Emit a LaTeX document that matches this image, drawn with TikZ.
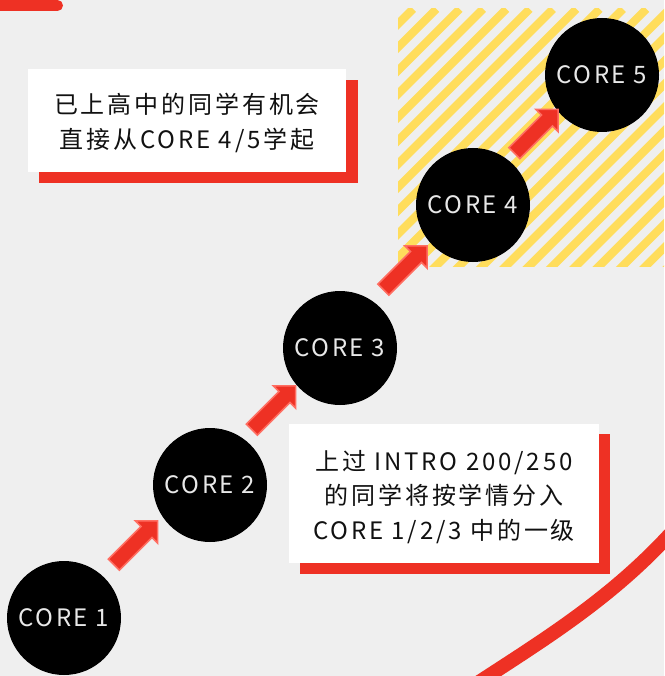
\documentclass[tikz,border=0pt]{standalone}
\usepackage{fontspec}
\setmainfont{Noto Sans CJK SC}
\newfontfamily\boxfont[LetterSpace=12]{Noto Sans CJK SC}
\newfontfamily\circfont[LetterSpace=10]{Noto Sans CJK SC}
\usetikzlibrary{shapes.arrows}
\definecolor{bggrey}{HTML}{EFEFEF}
\definecolor{redA}{HTML}{EE3124}
\definecolor{redL}{HTML}{FF6E62}
\definecolor{yel}{HTML}{FFDD5C}
\definecolor{ink}{HTML}{111111}
\definecolor{circtext}{HTML}{E8E8E8}
\pgfdeclarelayer{back}
\pgfdeclarelayer{shade}
\pgfsetlayers{back,shade,main}
\begin{document}
\begin{tikzpicture}[x=1pt,y=-1pt,
  corenode/.style={circle, fill=black, minimum size=114pt, inner sep=0pt,
    text=circtext, font=\circfont\fontsize{24}{28}\selectfont},
  notebox/.style={fill=white, inner sep=0pt},
  notetext/.style={text=ink, align=center, inner sep=0pt,
    font=\boxfont\fontsize{24}{34.5}\selectfont},
  steparrow/.style={single arrow, fill=redA, draw=redL, line width=1.6pt,
    inner sep=7pt, single arrow head extend=8pt, single arrow head indent=0pt,
    minimum height=62pt, shift={(-4,-6)}, rotate=45},
  shadowfill/.style={fill=redA}
]
\useasboundingbox (0,0) rectangle (664,676);
\begin{pgfonlayer}{back}
  \fill[bggrey] (0,0) rectangle (664,676);
  \begin{scope}
    \clip (398,9) rectangle (664,266);
    \foreach \k in {-2,...,23}
      \draw[yel, line width=8.2pt] ({413+\k*23.33},9) -- ++(-290,290);
  \end{scope}
\end{pgfonlayer}

% decorative red strokes
\draw[redA, line width=11pt, line cap=round] (-10,5.5) -- (57.5,5.5);
\draw[redA, line width=14pt] (476,684) .. controls (540,642) and (610,600) .. (672,532);

% note boxes
\node[notebox, minimum width=318pt, minimum height=103pt] (b1) at (187,120.5) {};
\node[notetext] (t1) at ([yshift=-2.5pt]b1.center) {已上高中的同学有机会\\直接从CORE 4/5学起};
\node[notebox, minimum width=310pt, minimum height=139pt] (b2) at (444,493.5) {};
\node[notetext] (t2) at ([yshift=-3.5pt]b2.center) {上过 INTRO 200/250\\的同学将按学情分入\\CORE 1/2/3 中的一级};
\begin{pgfonlayer}{shade}
  \fill[shadowfill] ([shift={(11.5,11)}]b1.south west) rectangle ([shift={(11.5,11)}]b1.north east);
  \fill[shadowfill] ([shift={(11,10.5)}]b2.south west) rectangle ([shift={(11,10.5)}]b2.north east);
\end{pgfonlayer}

% core circles
\node[corenode] (c1) at (64,618) {CORE 1};
\node[corenode] (c2) at (210,485) {CORE 2};
\node[corenode] (c3) at (340,348) {CORE 3};
\node[corenode] (c4) at (473,205) {CORE 4};
\node[corenode] (c5) at (602,75) {CORE 5};

% step arrows
\path (c1) -- node[steparrow] (a1) {} (c2);
\path (c2) -- node[steparrow] (a2) {} (c3);
\path (c3) -- node[steparrow] (a3) {} (c4);
\path (c4) -- node[steparrow] (a4) {} (c5);
\end{tikzpicture}
\end{document}
